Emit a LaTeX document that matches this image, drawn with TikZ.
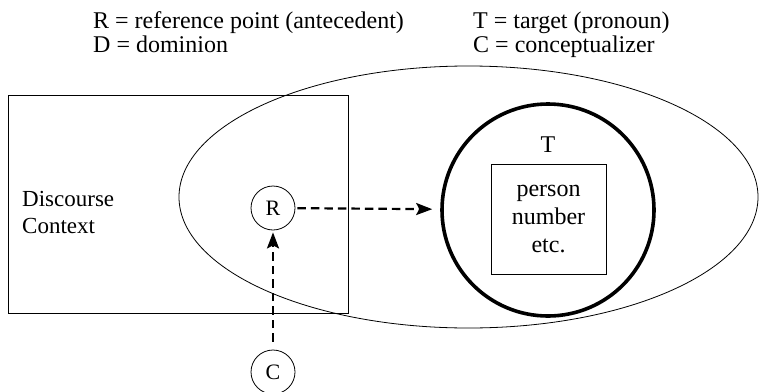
\documentclass[tikz,border=0pt]{standalone}
\usepackage{fontspec}
\setmainfont{Liberation Serif}
\usetikzlibrary{shapes.geometric,arrows.meta}
\begin{document}
\begin{tikzpicture}[x=1pt,y=-1pt,
  thin/.style={draw,line width=0.8pt},
  smallcirc/.style={circle,draw,line width=0.8pt,minimum size=44pt,inner sep=0pt,font=\fontsize{22}{26}\selectfont},
  dasharrow/.style={line width=2.2pt,dash pattern=on 8.5pt off 5pt,-{Stealth[length=16pt,width=12pt,inset=3pt]}},
  legend/.style={anchor=base west,inner sep=0pt,font=\fontsize{24}{28}\selectfont},
  txt/.style={font=\fontsize{24}{28}\selectfont}]
\useasboundingbox (0,0) rectangle (759,391);
% legend
\node[legend] (l1) at (93,28) {R = reference point (antecedent)};
\node[legend] (l2) at (93,52) {D = dominion};
\node[legend] (l3) at (473,28) {T = target (pronoun)};
\node[legend] (l4) at (473,52) {C = conceptualizer};
% discourse context box
\node[thin,rectangle,minimum width=340pt,minimum height=218pt,inner sep=0pt] (ctx) at (178,204) {};
\node[txt,align=left,anchor=west,inner sep=0pt,font=\fontsize{23}{27}\selectfont] (ctxlabel) at (22,212) {Discourse\\Context};
% dominion ellipse
\node[thin,ellipse,minimum width=579pt,minimum height=262pt,inner sep=0pt] (dom) at (468.5,197) {};
% target circle
\node[circle,draw,line width=3.6pt,minimum size=212pt,inner sep=0pt] (T) at (548,210) {};
\node[txt,inner sep=0pt] (Tlabel) at (548,145) {T};
\node[thin,rectangle,minimum width=115pt,minimum height=110pt,inner sep=0pt,align=center,txt] (feat) at (548.5,219) {person\\number\\etc.};
% R and C
\node[smallcirc] (R) at (273,208) {R};
\node[smallcirc] (C) at (273,372) {C};
\draw[dasharrow,shorten >=8pt,shorten <=2pt] (R) -- (T);
\draw[dasharrow,shorten <=8pt,shorten >=2pt] (C) -- (R);
\end{tikzpicture}
\end{document}
